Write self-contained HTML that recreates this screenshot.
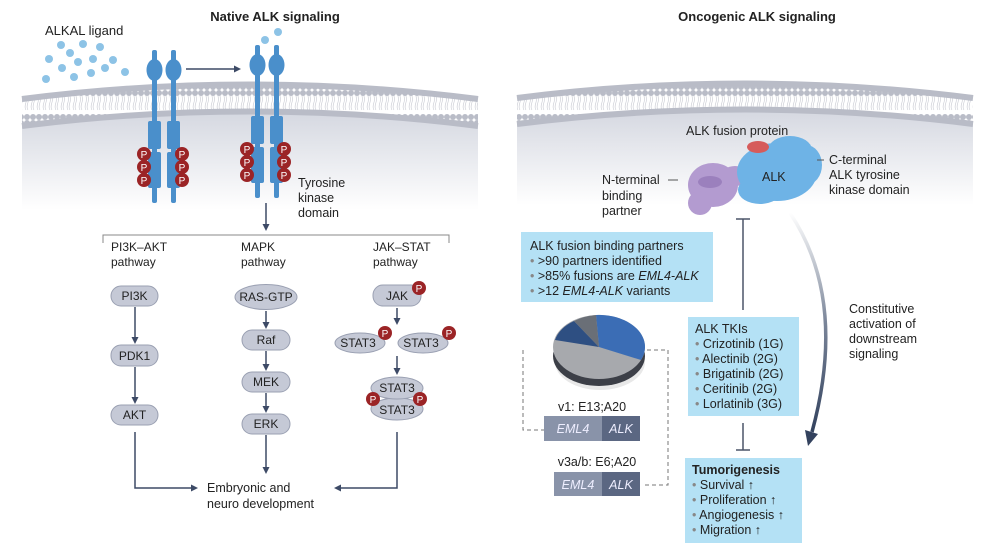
<!DOCTYPE html>
<html><head><meta charset="utf-8"><style>
html,body{margin:0;padding:0;background:#fff}
svg{display:block}
text{font-family:"Liberation Sans",sans-serif;fill:#222}
</style></head><body>
<svg width="987" height="546" viewBox="0 0 987 546" xmlns="http://www.w3.org/2000/svg">
<defs>
<linearGradient id="cyto" x1="0" y1="0" x2="0" y2="1">
<stop offset="0" stop-color="#d4d7e0"/><stop offset="1" stop-color="#ffffff"/></linearGradient>
<linearGradient id="arr" x1="0" y1="0" x2="0" y2="1">
<stop offset="0" stop-color="#ffffff"/><stop offset="0.5" stop-color="#7a8599"/><stop offset="1" stop-color="#33425e"/></linearGradient>
<pattern id="lip" width="6" height="30" patternUnits="userSpaceOnUse">
<circle cx="3" cy="3" r="3" fill="#b9bcc7"/><circle cx="3" cy="27" r="3" fill="#b9bcc7"/>
<path d="M2 6 q1 4 -0.5 8 q-1 4 0.5 6 M4 6 q1 4 -0.5 8 q-1 4 0.5 6" stroke="#c7c9d1" stroke-width="0.6" fill="none"/>
</pattern>
</defs>

<path d="M22 126 Q250 95 478 126 L478 210 L22 210 Z" fill="url(#cyto)"/>
<path d="M22 99 Q250 70 478 99 L478 128 Q250 99 22 128 Z" fill="url(#lip)"/>
<path d="M22 99 Q250 70 478 99" stroke="#b9bcc7" stroke-width="6" fill="none"/>
<path d="M22 126 Q250 97 478 126" stroke="#b9bcc7" stroke-width="6" fill="none"/>

<path d="M517 124 Q745 93 973 124 L973 205 L517 205 Z" fill="url(#cyto)"/>
<path d="M517 98 Q745 67 973 98 L973 126 Q745 95 517 126 Z" fill="url(#lip)"/>
<path d="M517 98 Q745 69 973 98" stroke="#b9bcc7" stroke-width="6" fill="none"/>
<path d="M517 124 Q745 95 973 124" stroke="#b9bcc7" stroke-width="6" fill="none"/>

<text x="275" y="21" font-size="13" font-weight="bold" text-anchor="middle">Native ALK signaling</text>
<text x="757" y="21" font-size="13" font-weight="bold" text-anchor="middle">Oncogenic ALK signaling</text>
<text x="45" y="35" font-size="13">ALKAL ligand</text>
<g fill="#8dc3e6">
<circle cx="61" cy="45" r="4"/><circle cx="83" cy="44" r="4"/><circle cx="100" cy="47" r="4"/><circle cx="49" cy="59" r="4"/><circle cx="70" cy="53" r="4"/><circle cx="78" cy="62" r="4"/><circle cx="93" cy="59" r="4"/><circle cx="113" cy="60" r="4"/><circle cx="62" cy="68" r="4"/><circle cx="74" cy="77" r="4"/><circle cx="91" cy="73" r="4"/><circle cx="105" cy="68" r="4"/><circle cx="125" cy="72" r="4"/><circle cx="46" cy="79" r="4"/><circle cx="265" cy="40" r="4"/><circle cx="278" cy="32" r="4"/>
</g>
<line x1="186" y1="69" x2="236" y2="69" stroke="#3d4a66" stroke-width="1.5"/>
<path d="M241 69 l-7 -3.5 v7 z" fill="#3d4a66"/>

<g fill="#4a8fcb">
<rect x="152" y="50" width="5" height="153" rx="2"/><rect x="171" y="50" width="5" height="153" rx="2"/>
<ellipse cx="154.5" cy="70" rx="8" ry="11"/><ellipse cx="173.5" cy="70" rx="8" ry="11"/>
<rect x="148" y="121" width="13" height="28" rx="2"/><rect x="167" y="121" width="13" height="28" rx="2"/>
<rect x="148" y="152" width="13" height="36" rx="2"/><rect x="167" y="152" width="13" height="36" rx="2"/>
<rect x="255" y="45" width="5" height="153" rx="2"/><rect x="274" y="45" width="5" height="153" rx="2"/>
<ellipse cx="257.5" cy="65" rx="8" ry="11"/><ellipse cx="276.5" cy="65" rx="8" ry="11"/>
<rect x="251" y="116" width="13" height="28" rx="2"/><rect x="270" y="116" width="13" height="28" rx="2"/>
<rect x="251" y="147" width="13" height="36" rx="2"/><rect x="270" y="147" width="13" height="36" rx="2"/>
</g>
<g font-size="10" text-anchor="middle">
<g fill="#9b2426">
<circle cx="144" cy="154" r="7"/><circle cx="144" cy="167" r="7"/><circle cx="144" cy="180" r="7"/>
<circle cx="182" cy="154" r="7"/><circle cx="182" cy="167" r="7"/><circle cx="182" cy="180" r="7"/>
<circle cx="247" cy="149" r="7"/><circle cx="247" cy="162" r="7"/><circle cx="247" cy="175" r="7"/>
<circle cx="284" cy="149" r="7"/><circle cx="284" cy="162" r="7"/><circle cx="284" cy="175" r="7"/>
</g>
<text x="144" y="158" style="fill:#fff">P</text><text x="144" y="171" style="fill:#fff">P</text><text x="144" y="184" style="fill:#fff">P</text>
<text x="182" y="158" style="fill:#fff">P</text><text x="182" y="171" style="fill:#fff">P</text><text x="182" y="184" style="fill:#fff">P</text>
<text x="247" y="153" style="fill:#fff">P</text><text x="247" y="166" style="fill:#fff">P</text><text x="247" y="179" style="fill:#fff">P</text>
<text x="284" y="153" style="fill:#fff">P</text><text x="284" y="166" style="fill:#fff">P</text><text x="284" y="179" style="fill:#fff">P</text>
</g>
<text x="298" y="187" font-size="12.5">Tyrosine</text>
<text x="298" y="202" font-size="12.5">kinase</text>
<text x="298" y="217" font-size="12.5">domain</text>

<g stroke="#3d4a66" stroke-width="1.5" fill="none">
<line x1="266" y1="203" x2="266" y2="226"/>
<path d="M103 243 V235 H449 V243" stroke="#888" stroke-width="1"/>
</g>
<path d="M266 231 l-3.5 -7 h7 z" fill="#3d4a66"/>

<g font-size="12">
<text x="111" y="251">PI3K–AKT</text><text x="111" y="266">pathway</text>
<text x="241" y="251">MAPK</text><text x="241" y="266">pathway</text>
<text x="373" y="251">JAK–STAT</text><text x="373" y="266">pathway</text>
</g>

<g fill="#c5c9d6" stroke="#9aa0b2" stroke-width="1">
<rect x="111" y="286" width="47" height="20" rx="10"/>
<rect x="111" y="345" width="47" height="21" rx="10"/>
<rect x="111" y="405" width="47" height="20" rx="10"/>
<ellipse cx="266" cy="297" rx="31" ry="12.5"/>
<rect x="242" y="330" width="48" height="20" rx="10"/>
<rect x="242" y="372" width="48" height="20" rx="10"/>
<rect x="242" y="414" width="48" height="20" rx="10"/>
<rect x="373" y="285" width="48" height="21" rx="10"/>
<ellipse cx="360" cy="343" rx="25" ry="10"/>
<ellipse cx="423" cy="343" rx="25" ry="10"/>
<ellipse cx="397" cy="409" rx="26" ry="11"/>
<ellipse cx="397" cy="388" rx="26" ry="11"/>
</g>
<g font-size="12" text-anchor="middle">
<text x="134.5" y="300">PI3K</text><text x="134.5" y="360">PDK1</text><text x="134.5" y="419">AKT</text>
<text x="266" y="301">RAS-GTP</text><text x="266" y="344">Raf</text><text x="266" y="386">MEK</text><text x="266" y="428">ERK</text>
<text x="397" y="300">JAK</text><text x="358" y="347">STAT3</text><text x="421" y="347">STAT3</text>
<text x="397" y="392">STAT3</text><text x="397" y="414">STAT3</text>
</g>
<g fill="#9b2426"><circle cx="419" cy="288" r="7"/><circle cx="385" cy="333" r="7"/><circle cx="449" cy="333" r="7"/><circle cx="373" cy="399" r="7"/><circle cx="420" cy="399" r="7"/></g>
<g font-size="10" text-anchor="middle">
<text x="419" y="292" style="fill:#fff">P</text><text x="385" y="337" style="fill:#fff">P</text><text x="449" y="337" style="fill:#fff">P</text><text x="373" y="403" style="fill:#fff">P</text><text x="420" y="403" style="fill:#fff">P</text>
</g>

<g stroke="#3d4a66" stroke-width="1.5" fill="none">
<line x1="135" y1="307" x2="135" y2="338"/><line x1="135" y1="367" x2="135" y2="398"/>
<line x1="266" y1="311" x2="266" y2="324"/><line x1="266" y1="351" x2="266" y2="366"/><line x1="266" y1="393" x2="266" y2="408"/><line x1="266" y1="435" x2="266" y2="468"/>
<line x1="397" y1="308" x2="397" y2="320"/><line x1="397" y1="356" x2="397" y2="370"/>
<path d="M135 432 V488 H192"/><path d="M397 432 V488 H340"/>
</g>
<g fill="#3d4a66">
<path d="M135 344 l-3.5 -7 h7z"/><path d="M135 404 l-3.5 -7 h7z"/>
<path d="M266 329 l-3.5 -7 h7z"/><path d="M266 371 l-3.5 -7 h7z"/><path d="M266 413 l-3.5 -7 h7z"/><path d="M266 474 l-3.5 -7 h7z"/>
<path d="M397 325 l-3.5 -7 h7z"/><path d="M397 375 l-3.5 -7 h7z"/>
<path d="M198 488 l-7 -3.5 v7z"/><path d="M334 488 l7 -3.5 v7z"/>
</g>
<text x="207" y="492" font-size="12.5">Embryonic and</text>
<text x="207" y="508" font-size="12.5">neuro development</text>

<text x="686" y="135" font-size="12.5">ALK fusion protein</text>
<g fill="#b39bd0">
<ellipse cx="713" cy="185" rx="25" ry="22"/><ellipse cx="700" cy="203" rx="12" ry="12"/><ellipse cx="735" cy="176" rx="14" ry="10"/>
</g>
<ellipse cx="710" cy="182" rx="12" ry="6" fill="#9b80bd"/>
<g fill="#6eb3e6">
<ellipse cx="777" cy="172" rx="40" ry="29"/><ellipse cx="790" cy="150" rx="22" ry="14"/><ellipse cx="806" cy="165" rx="16" ry="20"/><ellipse cx="760" cy="190" rx="22" ry="14"/>
</g>
<ellipse cx="758" cy="147" rx="11" ry="6" fill="#d65b5b"/>
<text x="762" y="181" font-size="12.5">ALK</text>
<line x1="817" y1="160" x2="824" y2="160" stroke="#555"/>
<line x1="668" y1="180" x2="678" y2="180" stroke="#555"/>
<g font-size="12.5">
<text x="829" y="164">C-terminal</text><text x="829" y="179">ALK tyrosine</text><text x="829" y="194">kinase domain</text>
<text x="602" y="184">N-terminal</text><text x="602" y="200">binding</text><text x="602" y="215">partner</text>
</g>

<rect x="521" y="232" width="192" height="70" fill="#b4e1f5"/>
<g font-size="12.5">
<text x="530" y="250">ALK fusion binding partners</text>
<text x="530" y="265"><tspan fill="#888">• </tspan>&gt;90 partners identified</text>
<text x="530" y="280"><tspan fill="#888">• </tspan>&gt;85% fusions are <tspan font-style="italic">EML4-ALK</tspan></text>
<text x="530" y="295"><tspan fill="#888">• </tspan>&gt;12 <tspan font-style="italic">EML4-ALK</tspan> variants</text>
</g>

<ellipse cx="600" cy="362" rx="45" ry="28" fill="#d8d8d8" opacity="0.6"/>
<ellipse cx="599" cy="356" rx="46" ry="30" fill="#3c3f47"/>
<ellipse cx="599" cy="347" rx="46" ry="32" fill="#a7a9ad"/>
<path d="M599 347 L596 315 A46 32 0 0 1 641 360 Z" fill="#3b6db5"/>
<path d="M599 347 L555 340 A46 32 0 0 1 574 321 Z" fill="#2e4f82"/>
<path d="M599 347 L574 321 A46 32 0 0 1 596 315 Z" fill="#6a6f77"/>
<path d="M523 350 V430 H544 M647 350 H668 V485 H642" stroke="#777" stroke-dasharray="4 3" fill="none"/>
<text x="592" y="411" font-size="12.5" text-anchor="middle">v1: E13;A20</text>
<rect x="544" y="416" width="58" height="25" fill="#8993a9"/><rect x="602" y="416" width="38" height="25" fill="#5b6782"/>
<text x="597" y="466" font-size="12.5" text-anchor="middle">v3a/b: E6;A20</text>
<rect x="554" y="472" width="48" height="24" fill="#8993a9"/><rect x="602" y="472" width="38" height="24" fill="#5b6782"/>
<g font-size="12.5" font-style="italic">
<text x="573" y="433" text-anchor="middle" style="fill:#eef">EML4</text><text x="621" y="433" text-anchor="middle" style="fill:#eef">ALK</text>
<text x="578" y="489" text-anchor="middle" style="fill:#eef">EML4</text><text x="621" y="489" text-anchor="middle" style="fill:#eef">ALK</text>
</g>

<g stroke="#4a5468" stroke-width="1.5">
<line x1="743" y1="219" x2="743" y2="310"/><line x1="736" y1="219" x2="750" y2="219"/>
<line x1="743" y1="423" x2="743" y2="450"/><line x1="736" y1="450" x2="750" y2="450"/>
</g>
<path d="M790 213 Q848 300 812 432" stroke="url(#arr)" stroke-width="3.5" fill="none"/>
<path d="M808 446 l-3 -16 l13 4 z" fill="#33425e"/>
<g font-size="12.5">
<text x="849" y="313">Constitutive</text><text x="849" y="328">activation of</text><text x="849" y="343">downstream</text><text x="849" y="358">signaling</text>
</g>

<rect x="688" y="317" width="111" height="99" fill="#b4e1f5"/>
<g font-size="12.5">
<text x="695" y="333">ALK TKIs</text>
<text x="695" y="348"><tspan fill="#888">• </tspan>Crizotinib (1G)</text>
<text x="695" y="363"><tspan fill="#888">• </tspan>Alectinib (2G)</text>
<text x="695" y="378"><tspan fill="#888">• </tspan>Brigatinib (2G)</text>
<text x="695" y="393"><tspan fill="#888">• </tspan>Ceritinib (2G)</text>
<text x="695" y="408"><tspan fill="#888">• </tspan>Lorlatinib (3G)</text>
</g>
<rect x="685" y="458" width="117" height="85" fill="#b4e1f5"/>
<g font-size="12.5">
<text x="692" y="474" font-weight="bold">Tumorigenesis</text>
<text x="692" y="489"><tspan fill="#888">• </tspan>Survival ↑</text>
<text x="692" y="504"><tspan fill="#888">• </tspan>Proliferation ↑</text>
<text x="692" y="519"><tspan fill="#888">• </tspan>Angiogenesis ↑</text>
<text x="692" y="534"><tspan fill="#888">• </tspan>Migration ↑</text>
</g>
</svg>
</body></html>
